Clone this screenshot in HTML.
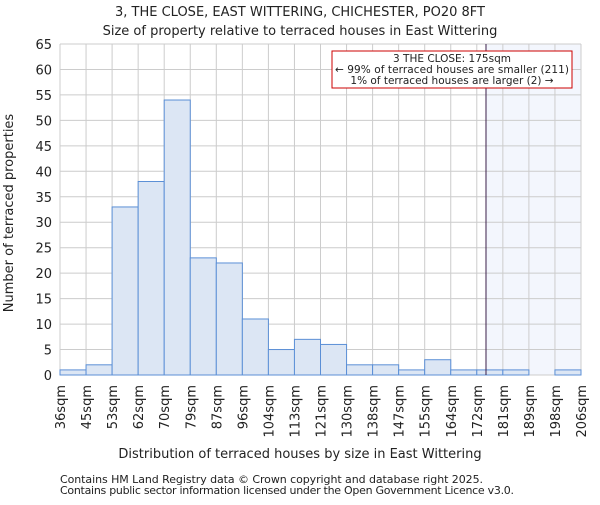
<!DOCTYPE html>
<html><head><meta charset="utf-8"><style>
body{margin:0;background:#fff;}
svg text{font-family:"DejaVu Sans","Liberation Sans",sans-serif;fill:#222;}
</style></head><body>
<svg width="600" height="500">
<g id="g"></g>
</svg>
<script>
const categories=["36sqm","45sqm","53sqm","62sqm","70sqm","79sqm","87sqm","96sqm","104sqm","113sqm","121sqm","130sqm","138sqm","147sqm","155sqm","164sqm","172sqm","181sqm","189sqm","198sqm","206sqm"];
const counts=[1,2,33,38,54,23,22,11,5,7,6,2,2,1,3,1,1,1,0,1];
const yTicks=[0,5,10,15,20,25,30,35,40,45,50,55,60,65];
const markerValue=175;
const binStart=36, binEnd=206;
const L=60,R=581,T=44,B=375,yMax=65;
const nb=counts.length, bw=(R-L)/nb;
const ys=v=>B-(v/yMax)*(B-T);
const xb=i=>L+i*bw;
const xv=v=>L+(v-binStart)/(binEnd-binStart)*(R-L);
const g=document.getElementById('g');
const NS='http://www.w3.org/2000/svg';
function mk(t,a,txt){const e=document.createElementNS(NS,t);for(const k in a)e.setAttribute(k,a[k]);if(txt!==undefined)e.textContent=txt;g.appendChild(e);return e;}
const mx=xv(markerValue);
let e=mk('rect',{x:mx,y:T,width:R-mx,height:B-T,fill:'#f3f6fd'});


yTicks.forEach(v=>{let l=mk('line',{x1:L,x2:R,y1:ys(v),y2:ys(v),stroke:'#cccccc','stroke-width':1});


let t=mk('text',{x:L-8,y:ys(v)+5,'text-anchor':'end','font-size':13},v);

});
categories.forEach((c,i)=>{let l=mk('line',{x1:xb(i),x2:xb(i),y1:T,y2:B,stroke:'#cccccc','stroke-width':1});


const x=xb(i)+5;
let t=mk('text',{x:x,y:385,'text-anchor':'end','font-size':13,transform:`rotate(-90 ${x} 385)`},c);

});
counts.forEach((v,i)=>{if(v<=0)return;let r=mk('rect',{x:xb(i),y:ys(v),width:bw,height:B-ys(v),fill:'#dce6f4',stroke:'#5b8fd6','stroke-width':1});

});
e=mk('line',{x1:mx,x2:mx,y1:T,y2:B,stroke:'#3a1f4a','stroke-width':1});


e=mk('rect',{x:332,y:51,width:240,height:37,fill:'#fff',stroke:'#cc0000','stroke-width':1});


[["3 THE CLOSE: 175sqm",62],["← 99% of terraced houses are smaller (211)",73],["1% of terraced houses are larger (2) →",84]].forEach(a=>{let t=mk('text',{x:452,y:a[1],'text-anchor':'middle','font-size':10.5,'textLength':a[0].length>25?234:0},a[0]);
if(a[0].length<=25||a[0].startsWith('1%'))t.removeAttribute('textLength');

});
e=mk('text',{x:300,y:16,'text-anchor':'middle','font-size':13},"3, THE CLOSE, EAST WITTERING, CHICHESTER, PO20 8FT");


e=mk('text',{x:300,y:35,'text-anchor':'middle','font-size':13},"Size of property relative to terraced houses in East Wittering");


e=mk('text',{x:300,y:458,'text-anchor':'middle','font-size':13},"Distribution of terraced houses by size in East Wittering");


e=mk('text',{x:13,y:213,'text-anchor':'middle','font-size':13,transform:'rotate(-90 13 213)'},"Number of terraced properties");


e=mk('text',{x:60,y:483,'font-size':11,fill:'#444','textLength':423},"Contains HM Land Registry data © Crown copyright and database right 2025.");


e=mk('text',{x:60,y:494,'font-size':11,fill:'#444','textLength':454},"Contains public sector information licensed under the Open Government Licence v3.0.");


</script>
</body></html>
